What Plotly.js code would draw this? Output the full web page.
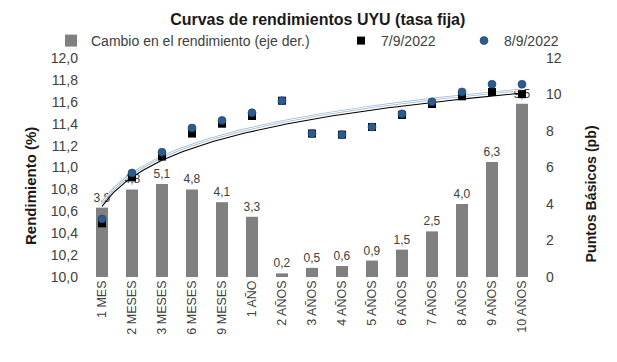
<!DOCTYPE html>
<html>
<head>
<meta charset="utf-8">
<script src="https://cdn.plot.ly/plotly-3.0.1.min.js"></script>
<style>html,body{margin:0;padding:0;background:#fff}#chart{width:617px;height:362px}</style>
</head>
<body>
<div id="chart"></div>
<script>
const categories = ['1 MES','2 MESES','3 MESES','6 MESES','9 MESES','1 AÑO','2 AÑOS','3 AÑOS','4 AÑOS','5 AÑOS','6 AÑOS','7 AÑOS','8 AÑOS','9 AÑOS','10 AÑOS'];
const cambioPb = [3.8,4.8,5.1,4.8,4.1,3.3,0.2,0.5,0.6,0.9,1.5,2.5,4.0,6.3,9.5];
const rend_7_9 = [10.49,10.91,11.10,11.31,11.40,11.47,11.61,11.31,11.30,11.37,11.48,11.58,11.65,11.69,11.67];
const rend_8_9 = [10.53,10.95,11.14,11.36,11.43,11.50,11.61,11.31,11.30,11.37,11.49,11.60,11.69,11.76,11.76];

const pos = categories.map((c,i)=>i+1);

// Logarithmic trendline (least squares on ln x), as in the source spreadsheet
function logTrend(ys){
  const lx = pos.map(Math.log);
  const n = ys.length;
  const mx = lx.reduce((a,b)=>a+b,0)/n, my = ys.reduce((a,b)=>a+b,0)/n;
  let sxy=0,sxx=0;
  for(let i=0;i<n;i++){sxy+=(lx[i]-mx)*(ys[i]-my);sxx+=(lx[i]-mx)**2;}
  const b = sxy/sxx, a = my-b*mx;
  const xs=[],yv=[];
  for(let k=0;k<=140;k++){const x=1+k*0.1;xs.push(x);yv.push(a+b*Math.log(x));}
  return {x:xs,y:yv};
}
const t7 = logTrend(rend_7_9), t8 = logTrend(rend_8_9);

const F = 'Liberation Sans, Arial, sans-serif';
const traces = [
  {type:'bar', x:pos, y:cambioPb, yaxis:'y', name:'Cambio en el rendimiento (eje der.)',
   marker:{color:'#808080'}, width:0.4, texttemplate:'%{y:.1f}', textposition:'outside',
   constraintext:'none', cliponaxis:false, textfont:{size:12,color:'#404040',family:F}, legend:'legend', hoverinfo:'skip'},
  {type:'scatter', mode:'lines', x:t8.x, y:t8.y, yaxis:'y2', showlegend:false,
   line:{color:'#9fb9d3',width:2.6}, hoverinfo:'skip'},
  {type:'scatter', mode:'lines', x:t8.x, y:t8.y, yaxis:'y2', showlegend:false,
   line:{color:'#ffffff',width:1}, hoverinfo:'skip'},
  {type:'scatter', mode:'lines', x:t7.x, y:t7.y, yaxis:'y2', showlegend:false,
   line:{color:'#000000',width:1.1}, hoverinfo:'skip'},
  {type:'scatter', mode:'markers', x:pos, y:rend_7_9, yaxis:'y2', name:'7/9/2022',
   marker:{symbol:'square',size:8,color:'#000000'}, legend:'legend2', cliponaxis:false},
  {type:'scatter', mode:'markers', x:pos, y:rend_8_9, yaxis:'y2', name:'8/9/2022',
   marker:{symbol:'circle',size:8,color:'#2c5b8e',line:{color:'#1d3d63',width:0.6}}, legend:'legend3', cliponaxis:false}
];

const legFont = {family:F,size:14,color:'#404040'};
const legY = (277-41)/219;
const layout = {
  width:617, height:362,
  margin:{l:87,r:80,t:58,b:85},
  paper_bgcolor:'#fff', plot_bgcolor:'#fff',
  separators:',.',
  font:{family:F,color:'#404040'},
  title:{text:'Curvas de rendimientos UYU (tasa fija)', font:{family:F,size:16,weight:'bold',color:'#1a1a1a'},
         x:0.515, xanchor:'center', yref:'container', y:1-19/362, yanchor:'middle'},
  xaxis:{range:[0.5,15.5], tickvals:pos, ticktext:categories, tickangle:-90,
         showgrid:false, zeroline:false, showline:false, ticks:'',
         tickfont:{family:F,size:12.5,color:'#404040'}},
  yaxis:{range:[0,12], dtick:2, side:'right', showgrid:false, zeroline:false, showline:false,
         ticks:'', ticklabelstandoff:8, tickfont:{family:F,size:14,color:'#404040'}},
  yaxis2:{range:[10,12], dtick:0.2, tickformat:'.1f', overlaying:'y', side:'left',
          showgrid:false, zeroline:false, showline:false, ticks:'', ticklabelstandoff:8,
          tickfont:{family:F,size:14,color:'#404040'}},
  legend:{orientation:'h', x:(51-87)/450, xanchor:'left', y:legY, yanchor:'middle', font:legFont, bgcolor:'rgba(0,0,0,0)'},
  legend2:{orientation:'h', x:(341-87)/450, xanchor:'left', y:legY, yanchor:'middle', font:legFont, bgcolor:'rgba(0,0,0,0)'},
  legend3:{orientation:'h', x:(464-87)/450, xanchor:'left', y:legY, yanchor:'middle', font:legFont, bgcolor:'rgba(0,0,0,0)'},
  annotations:[
    {text:'Rendimiento (%)', textangle:-90, xref:'paper', yref:'paper', x:(30-87)/450, y:(277-186)/219,
     xanchor:'center', yanchor:'middle', showarrow:false, font:{family:F,size:15,weight:'bold',color:'#1a1a1a'}},
    {text:'Puntos Básicos (pb)', textangle:-90, xref:'paper', yref:'paper', x:(590-87)/450, y:(277-194.5)/219,
     xanchor:'center', yanchor:'middle', showarrow:false, font:{family:F,size:14.2,weight:'bold',color:'#1a1a1a'}}
  ],
  showlegend:true
};
Plotly.newPlot('chart', traces, layout, {displayModeBar:false, staticPlot:true});
</script>
</body>
</html>
